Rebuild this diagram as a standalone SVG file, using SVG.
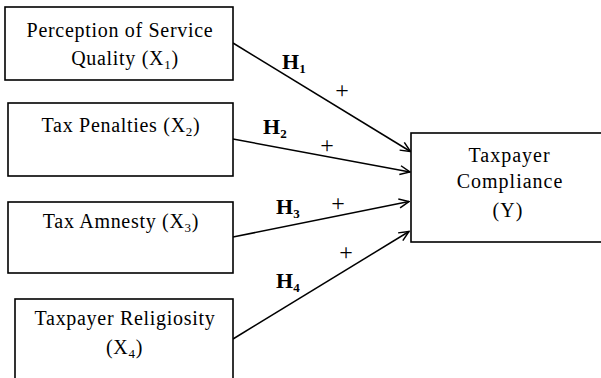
<svg xmlns="http://www.w3.org/2000/svg" width="601" height="378" viewBox="0 0 601 378">
<style>
.box{fill:#fff;stroke:#000;stroke-width:1.6}
.t{font-family:"Liberation Serif","Times New Roman",serif;font-size:20px;fill:#000;text-anchor:middle;letter-spacing:0.7px}
.ty{letter-spacing:1px}
.h{font-family:"Liberation Serif","Times New Roman",serif;font-size:22px;font-weight:bold;fill:#000}
.p{font-family:"Liberation Serif","Times New Roman",serif;font-size:24px;fill:#000;text-anchor:middle}
.sub{font-size:13px}
.c{stroke:#000;stroke-width:1.5;fill:none}
</style>
<defs>
<marker id="arr" viewBox="0 0 12 12" refX="11" refY="6" markerWidth="12" markerHeight="12" markerUnits="userSpaceOnUse" orient="auto">
<path d="M1,1.5 L11,6 L1,10.5" fill="none" stroke="#000" stroke-width="1.5"/>
</marker>
</defs>
<rect width="601" height="378" fill="#fff"/>
<g id="connectors">
<line class="c" x1="233" y1="43" x2="410.5" y2="151.5" marker-end="url(#arr)"/>
<line class="c" x1="233" y1="139" x2="410" y2="172" marker-end="url(#arr)"/>
<line class="c" x1="233" y1="237" x2="409" y2="201.5" marker-end="url(#arr)"/>
<line class="c" x1="233" y1="339" x2="409" y2="231.5" marker-end="url(#arr)"/>
<text class="h" x="282" y="69">H<tspan class="sub" dy="4">1</tspan></text>
<text class="h" x="263" y="134">H<tspan class="sub" dy="4">2</tspan></text>
<text class="h" x="276" y="214">H<tspan class="sub" dy="4">3</tspan></text>
<text class="h" x="276" y="288">H<tspan class="sub" dy="4">4</tspan></text>
<text class="p" x="342" y="98">+</text>
<text class="p" x="327" y="153">+</text>
<text class="p" x="338" y="211">+</text>
<text class="p" x="346" y="260">+</text>
</g>
<g id="x1">
<rect class="box" x="5" y="7" width="228" height="73"/>
<text class="t" x="120" y="37">Perception of Service</text>
<text class="t" x="125" y="65">Quality (X<tspan class="sub" dy="4">1</tspan><tspan dy="-4">)</tspan></text>
</g>
<g id="x2">
<rect class="box" x="8" y="103" width="225" height="73"/>
<text class="t" x="121" y="132">Tax Penalties (X<tspan class="sub" dy="4">2</tspan><tspan dy="-4">)</tspan></text>
</g>
<g id="x3">
<rect class="box" x="8" y="202" width="225" height="71"/>
<text class="t" x="121" y="228">Tax Amnesty (X<tspan class="sub" dy="4">3</tspan><tspan dy="-4">)</tspan></text>
</g>
<g id="x4">
<rect class="box" x="15" y="299" width="218" height="90"/>
<text class="t" x="125" y="325">Taxpayer Religiosity</text>
<text class="t" x="124.5" y="354">(X<tspan class="sub" dy="4">4</tspan><tspan dy="-4">)</tspan></text>
</g>
<g id="y">
<rect class="box" x="411" y="133" width="200" height="109"/>
<text class="t ty" x="509.5" y="162">Taxpayer</text>
<text class="t ty" x="510" y="188">Compliance</text>
<text class="t ty" x="508" y="217">(Y)</text>
</g>
</svg>
